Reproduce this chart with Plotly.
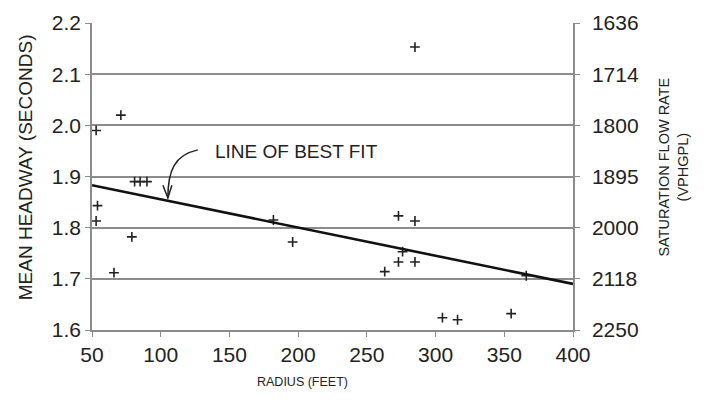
import plotly.graph_objects as go

# Observed data: radius (feet) vs mean headway (seconds)
radius = [53, 71, 54, 53, 66, 79, 81, 85, 90, 182, 196, 263, 273, 276, 273, 285, 285, 285, 305, 316, 355, 366]
headway = [1.99, 2.02, 1.843, 1.813, 1.712, 1.782, 1.89, 1.89, 1.89, 1.815, 1.772, 1.714, 1.823, 1.753, 1.733, 2.153, 1.813, 1.733, 1.624, 1.62, 1.632, 1.706]

# Line of best fit end points
fit_x = [50, 400]
fit_y = [1.883, 1.690]

# Axis ticks
x_ticks = [50, 100, 150, 200, 250, 300, 350, 400]
y_ticks = [1.6, 1.7, 1.8, 1.9, 2.0, 2.1, 2.2]
y_tick_labels = ["1.6", "1.7", "1.8", "1.9", "2.0", "2.1", "2.2"]
flow_tick_labels = ["2250", "2118", "2000", "1895", "1800", "1714", "1636"]

# Annotation arrow (curved) in data units
arrow_curve_x = [127, 110.3, 105.2, 105.2]
arrow_curve_y = [1.952, 1.942, 1.913, 1.858]
arrow_head_x = [101.6, 105.2, 108.1]
arrow_head_y = [1.883, 1.858, 1.883]
label_x, label_y = 138, 1.948

FONT = "Liberation Sans, Arial, sans-serif"
GRID = "#8c8c8c"
INK = "#222"

fig = go.Figure()
fig.add_trace(go.Scatter(
    x=radius, y=headway, mode="markers",
    marker=dict(symbol="cross-thin", size=7, line=dict(width=1.6, color=INK)),
    showlegend=False, hoverinfo="x+y"))
fig.add_trace(go.Scatter(
    x=fit_x, y=fit_y, mode="lines",
    line=dict(color="#111", width=2.6), showlegend=False))
# invisible trace to activate right axis
fig.add_trace(go.Scatter(x=[fit_x[0]], y=[fit_y[0]], yaxis="y2", mode="markers",
                         marker=dict(opacity=0), showlegend=False, hoverinfo="skip"))

path = "M {},{} C {},{} {},{} {},{}".format(
    arrow_curve_x[0], arrow_curve_y[0], arrow_curve_x[1], arrow_curve_y[1],
    arrow_curve_x[2], arrow_curve_y[2], arrow_curve_x[3], arrow_curve_y[3])
fig.add_shape(type="path", path=path, xref="x", yref="y",
              line=dict(color=INK, width=1.5))
head = "M {},{} L {},{} L {},{}".format(
    arrow_head_x[0], arrow_head_y[0], arrow_head_x[1], arrow_head_y[1],
    arrow_head_x[2], arrow_head_y[2])
fig.add_shape(type="path", path=head, xref="x", yref="y",
              line=dict(color=INK, width=1.5))

fig.add_annotation(x=label_x, y=label_y, text="LINE OF BEST FIT", showarrow=False,
                   xanchor="left", yanchor="middle",
                   font=dict(family=FONT, size=19, color=INK))

# Axis titles as annotations (positioned like the reference)
fig.add_annotation(x=-0.138, y=0.529, xref="paper", yref="paper",
                   text="MEAN HEADWAY (SECONDS)", textangle=-90, showarrow=False,
                   xanchor="center", yanchor="middle",
                   font=dict(family=FONT, size=19, color=INK))
fig.add_annotation(x=1.21, y=0.529, xref="paper", yref="paper",
                   text="SATURATION FLOW RATE<br>(VPHGPL)", textangle=-90, showarrow=False,
                   xanchor="center", yanchor="middle",
                   font=dict(family=FONT, size=14.5, color=INK))
fig.add_annotation(x=0.438, y=-0.169, xref="paper", yref="paper",
                   text="RADIUS (FEET)", showarrow=False,
                   xanchor="center", yanchor="middle",
                   font=dict(family=FONT, size=12.5, color=INK))

fig.update_layout(
    width=697, height=394,
    margin=dict(l=84, r=132, t=15, b=72, autoexpand=False),
    paper_bgcolor="white", plot_bgcolor="white",
    font=dict(family=FONT, color=INK),
    xaxis=dict(range=[50, 400], tickvals=x_ticks, ticks="outside", ticklen=5,
               tickcolor=GRID, showgrid=False, showline=True, linecolor=GRID, linewidth=1.5,
               tickfont=dict(size=21), zeroline=False, automargin=False),
    yaxis=dict(range=[1.6, 2.2], tickvals=y_ticks, ticktext=y_tick_labels,
               ticks="outside", ticklen=5, tickcolor=GRID,
               showgrid=True, gridcolor=GRID, gridwidth=1.5,
               showline=True, linecolor=GRID, linewidth=1.5, zeroline=False,
               tickfont=dict(size=21), automargin=False),
    yaxis2=dict(range=[1.6, 2.2], tickvals=y_ticks, ticktext=flow_tick_labels,
                overlaying="y", side="right", ticks="outside", ticklen=5, tickcolor=GRID,
                showgrid=False, showline=True, linecolor=GRID, linewidth=1.5,
                zeroline=False, tickfont=dict(size=21), automargin=False,
                ticklabelstandoff=8),
)

fig.write_html("out.html")
